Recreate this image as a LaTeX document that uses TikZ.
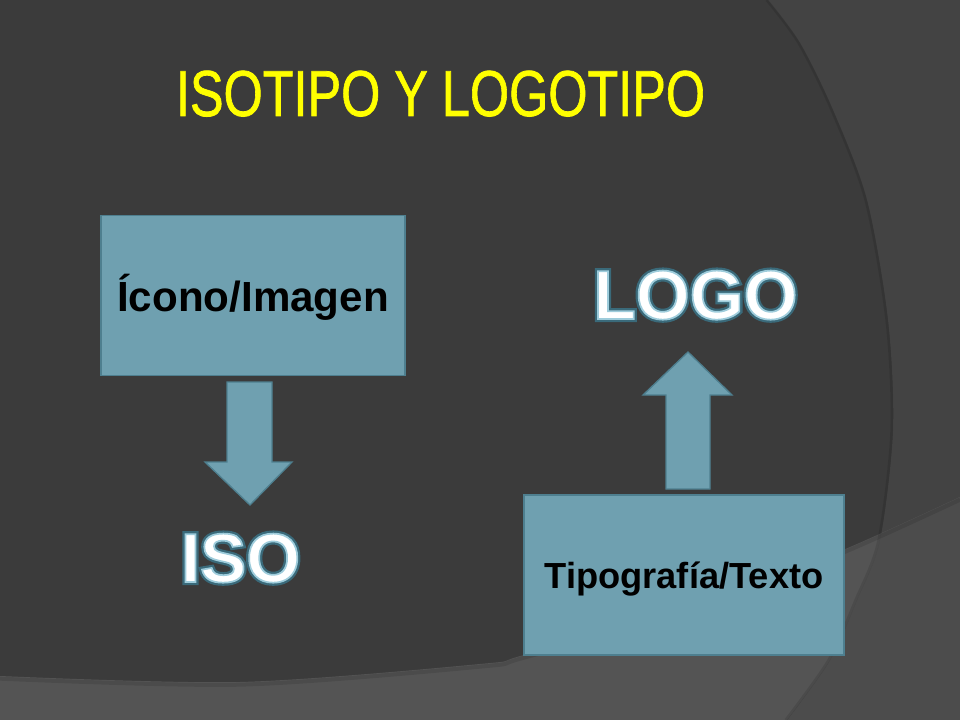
\documentclass[tikz,border=0pt]{standalone}
\usepackage{fontspec}
\setmainfont{Liberation Sans}
\newfontfamily\mytitlefont[FakeBold=1.2]{Liberation Sans}
\newfontfamily\myglowback[FakeBold=9]{Liberation Sans Bold}
\newfontfamily\myglowfront[FakeBold=2.5]{Liberation Sans Bold}
\definecolor{bgmain}{HTML}{3B3B3B}
\definecolor{bgright}{HTML}{434343}
\definecolor{bgband}{HTML}{545454}
\definecolor{bgboth}{HTML}{4C4C4C}
\definecolor{boxfill}{HTML}{6FA0B0}
\definecolor{boxedge}{HTML}{4E7F8F}
\definecolor{titley}{HTML}{FFFF00}
\definecolor{glowdark}{HTML}{3A6A7A}
\newcommand{\myrightpath}{plot[smooth] coordinates {(768,0) (800,43) (833,110) (867,200) (888,320) (893,430) (880,540) (857,600) (830,660) (787,720)}}
\newcommand{\mybandpath}{plot[smooth] coordinates {(0,676) (240,682) (480,664) (524,655) (700,605) (843,550) (960,497)}}
\newcommand{\glowword}[1]{\leavevmode
  \rlap{\myglowback\fontsize{52pt}{52pt}\selectfont\textcolor{glowdark}{#1}}%
  {\myglowfront\fontsize{52pt}{52pt}\selectfont\color{white}\special{pdf:code 0.62 0.80 0.86 RG}#1}}
\begin{document}
\begin{tikzpicture}[x=0.75pt,y=-0.75pt,
  infobox/.style={draw=boxedge, line width=1.2pt, fill=boxfill, inner sep=0pt},
  boxtext/.style={anchor=base, text=black, inner sep=0pt},
  blockarrow/.style={fill=boxfill, draw=boxedge, line width=1pt, line join=miter},
  glowtext/.style={anchor=base, inner sep=0pt}]
\useasboundingbox (0,0) rectangle (960,720);
% background
\fill[bgmain] (0,0) rectangle (960,720);
\fill[bgright] \myrightpath -- (960,720) -- (960,0) -- cycle;
\fill[bgband] \mybandpath -- (960,720) -- (0,720) -- cycle;
\begin{scope}
  \clip \mybandpath -- (960,720) -- (0,720) -- cycle;
  \fill[bgboth] \myrightpath -- (960,720) -- (960,0) -- cycle;
\end{scope}
\draw[black, opacity=0.10, line width=3pt, yshift=-2] \mybandpath;
\draw[black, opacity=0.10, line width=2pt, xshift=-1] \myrightpath;
% title
\node[anchor=base, inner sep=0pt, text=titley] (title) at (440.5,116)
  {\resizebox{396.75pt}{34pt}{\mytitlefont\fontsize{44pt}{44pt}\selectfont ISOTIPO Y LOGOTIPO}};
% boxes
\node[infobox, minimum width=228pt, minimum height=120pt] (icono) at (253,295.5) {};
\node[boxtext, font=\fontsize{31.6pt}{32pt}\selectfont\bfseries] (iconotxt) at (253,311) {Ícono/Imagen};
\node[infobox, minimum width=240pt, minimum height=120pt] (tipo) at (684,575) {};
\node[boxtext, font=\fontsize{27.2pt}{28pt}\selectfont\bfseries] (tipotxt) at (684,588) {Tipografía/Texto};
% block arrows
\draw[blockarrow] (227,382) -- (272,382) -- (272,462) -- (292,462) -- (250,505) -- (205,462) -- (227,462) -- cycle;
\draw[blockarrow] (666,489) -- (710,489) -- (710,395) -- (732,395) -- (688,352) -- (643,395) -- (666,395) -- cycle;
% outlined words
\node[glowtext] (logo) at (695.5,319) {\glowword{LOGO}};
\node[glowtext] (iso) at (240.5,582) {\glowword{ISO}};
\end{tikzpicture}
\end{document}
